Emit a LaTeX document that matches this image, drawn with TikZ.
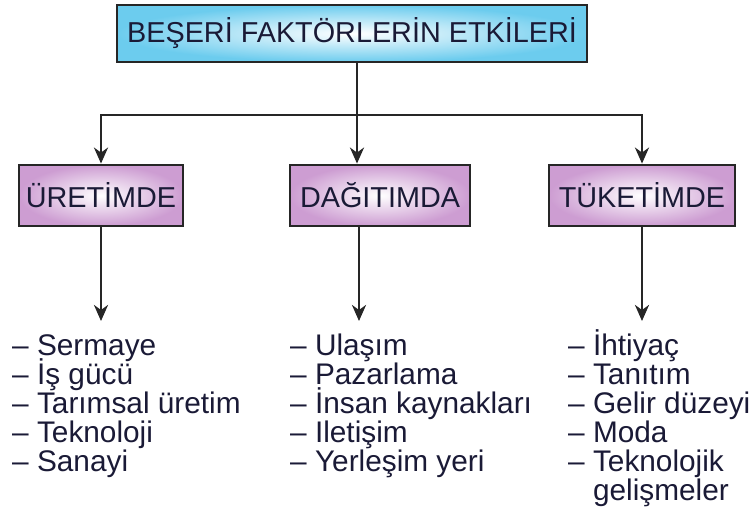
\documentclass[tikz,border=0pt]{standalone}
\usepackage{fontspec}
\setmainfont{Liberation Sans}
\usetikzlibrary{arrows.meta, positioning}
\definecolor{titleBlue}{HTML}{6CCCEE}
\definecolor{subPink}{HTML}{CD9DD2}
\definecolor{lineDark}{HTML}{262626}
\definecolor{textDark}{HTML}{1A1A36}
\tikzset{
  arrowK/.style={-{Stealth[length=16pt, width=14pt, inset=5pt]}, draw=lineDark,
                 line width=2.7pt},
  boxTitle/.style={rectangle, draw=lineDark, line width=2.8pt, inner color=white,
                   outer color=titleBlue, text=textDark, inner sep=2pt,
                   minimum width=470pt, minimum height=57pt,
                   font=\fontsize{28.8}{30}\selectfont},
  boxSub/.style={rectangle, draw=lineDark, line width=2.8pt, inner color=white,
                 outer color=subPink, text=textDark, inner sep=2pt,
                 minimum height=61pt, font=\fontsize{28.8}{30}\selectfont},
  itemText/.style={anchor=base west, inner sep=0pt, text=textDark,
                   font=\fontsize{29.8}{29}\selectfont},
}

\begin{document}
\begin{tikzpicture}[x=1pt, y=-1pt]
    \useasboundingbox (0,0) rectangle (756,516);
    % boxes
    \node[boxTitle] (title) at (352,33.5) {BEŞERİ FAKTÖRLERİN ETKİLERİ};
    \node[boxSub, minimum width=164pt] (uretim) at (101,195.5) {ÜRETİMDE};
    \node[boxSub, minimum width=180pt] (dagitim) at (380,195.5) {DAĞITIMDA};
    \node[boxSub, minimum width=186pt] (tuketim) at (642,195.5) {TÜKETİMDE};

    % branches
    \coordinate (fork) at (357,115);
    \draw[arrowK] (title.south -| fork) -- (dagitim.north -| fork);
    \draw[arrowK] (fork) -| (uretim.north);
    \draw[arrowK] (fork) -| (tuketim.north);

    % lists
    \foreach \txt [count=\i] in {Sermaye, İş gücü, Tarımsal üretim, Teknoloji, Sanayi}
      \node[itemText] (ur\i) at (12, 326+29*\i) {-- \txt};
    \foreach \txt [count=\i] in {Ulaşım, Pazarlama, İnsan kaynakları, Iletişim, Yerleşim yeri}
      \node[itemText] (dg\i) at (290, 326+29*\i) {-- \txt};
    \foreach \txt [count=\i] in {İhtiyaç, Tanıtım, Gelir düzeyi, Moda, Teknolojik}
      \node[itemText] (tk\i) at (568, 326+29*\i) {-- \txt};
    \node[itemText] (tk6) at (568,500) {\phantom{-- }gelişmeler};

    \coordinate (urEnd) at (uretim.south |- 0,321);
    \coordinate (dgEnd) at (359,321);
    \coordinate (tkEnd) at (tuketim.south |- 0,321);
    \draw[arrowK] (uretim.south) -- (urEnd);
    \draw[arrowK] (dagitim.south -| dgEnd) -- (dgEnd);
    \draw[arrowK] (tuketim.south) -- (tkEnd);
\end{tikzpicture}
\end{document}
